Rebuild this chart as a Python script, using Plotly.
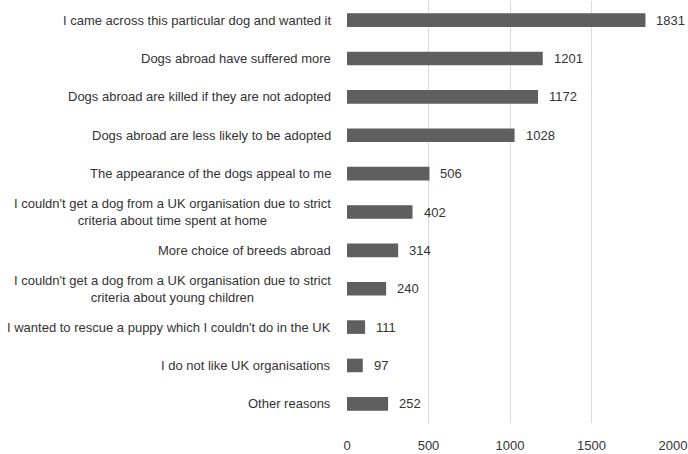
import plotly.graph_objects as go

categories = [
    "I came across this particular dog and wanted it",
    "Dogs abroad have suffered more",
    "Dogs abroad are killed if they are not adopted",
    "Dogs abroad are less likely to be adopted",
    "The appearance of the dogs appeal to me",
    "I couldn't get a dog from a UK organisation due to strict<br>criteria about time spent at home",
    "More choice of breeds abroad",
    "I couldn't get a dog from a UK organisation due to strict<br>criteria about young children",
    "I wanted to rescue a puppy which I couldn't do in the UK",
    "I do not like UK organisations",
    "Other reasons",
]
values = [1831, 1201, 1172, 1028, 506, 402, 314, 240, 111, 97, 252]
x_ticks = [0, 500, 1000, 1500, 2000]

FONT = "Liberation Sans, Arial, Helvetica, sans-serif"
TXT = "#333333"

fig = go.Figure()
fig.add_trace(go.Bar(
    y=categories, x=values, orientation="h",
    marker=dict(color="#5f5f5f", line=dict(width=0)),
    width=0.355,
))

annotations = []
for c, v in zip(categories, values):
    annotations.append(dict(x=v, y=c, xref="x", yref="y", text=str(v),
                            showarrow=False, xanchor="left", xshift=9,
                            font=dict(family=FONT, size=13, color=TXT)))
    annotations.append(dict(x=0, y=c, xref="paper", yref="y", text=c,
                            showarrow=False, xanchor="right", align="center",
                            xshift=-14,
                            font=dict(family=FONT, size=13, color=TXT)))

fig.update_layout(
    width=688, height=454,
    margin=dict(l=347, r=15, t=1, b=27),
    paper_bgcolor="white", plot_bgcolor="white",
    showlegend=False,
    annotations=annotations,
    xaxis=dict(range=[0, 2000], tickvals=x_ticks, showgrid=True,
               gridcolor="#d9d9d9", gridwidth=1, zeroline=False,
               showline=False, ticks="", ticklabelstandoff=13,
               tickfont=dict(family=FONT, size=13, color=TXT)),
    yaxis=dict(categoryorder="array", categoryarray=categories,
               autorange="reversed", showticklabels=False, showgrid=False,
               zeroline=False, showline=False, ticks=""),
)
fig.write_html("out.html", config={"displayModeBar": False},
               post_script="document.body.style.margin='0';")
